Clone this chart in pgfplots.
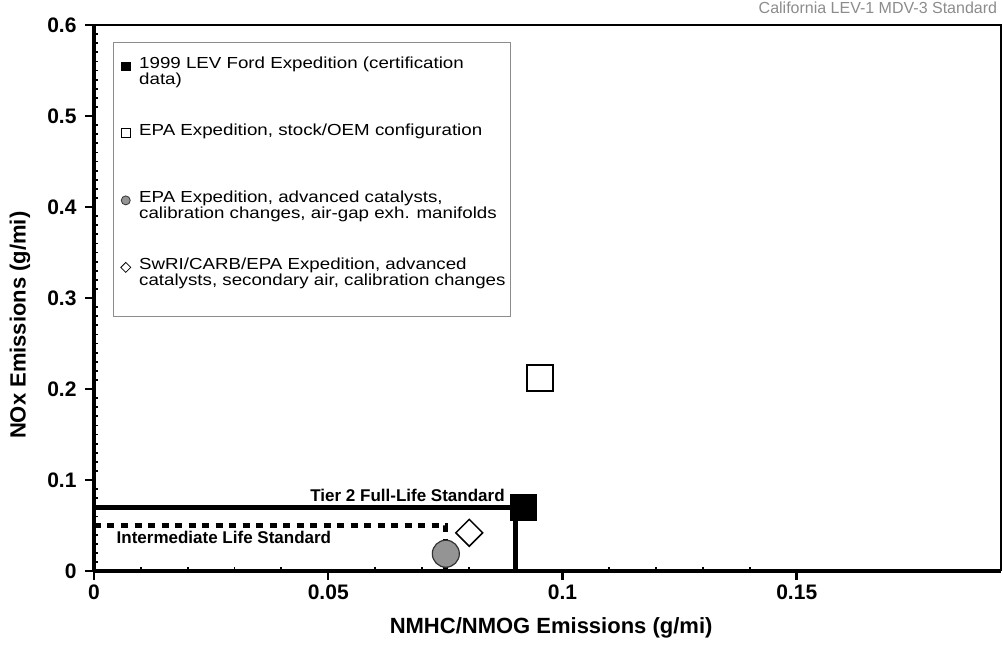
\documentclass[border=0pt]{standalone}
\usepackage{fontspec}
\setmainfont{Liberation Sans}
\newfontfamily\legfont{Liberation Sans}[FakeStretch=1.17]
\usepackage{pgfplots}
\pgfplotsset{compat=1.18}

% two-line legend text, baseline on the first line
\newcommand\twolines[2]{\vtop{\baselineskip=16pt\lineskiplimit=-30pt\hbox{#1}\hbox{#2}}}

\begin{document}
\begin{tikzpicture}
\useasboundingbox (-94pt,-77pt) rectangle (909pt,571pt);
\begin{axis}[
  scale only axis, width=907pt, height=546pt,
  at={(0pt,0pt)}, anchor=south west,
  xmin=0, xmax=0.1936, ymin=0, ymax=0.6,
  xtick={0,0.05,0.1,0.15}, minor x tick num=4,
  ytick={0,0.1,0.2,0.3,0.4,0.5,0.6}, minor y tick num=9,
  xtick pos=bottom, ytick pos=left,
  tick align=outside, major tick length=9pt, minor tick length=-4pt,
  major tick style={line width=2.5pt, black},
  minor tick style={line width=1.8pt, black},
  axis x line*=bottom, axis y line*=left,
  axis line style={line width=3.5pt, -},
  /pgf/number format/fixed, /pgf/number format/assume math mode=true,
  ticklabel style={font=\bfseries\fontsize{21}{25}\selectfont},
  yticklabel style={xshift=-5pt},
  xticklabel style={yshift=-1pt},
  xlabel={NMHC/NMOG Emissions (g/mi)}, ylabel={NOx Emissions (g/mi)},
  label style={font=\bfseries\fontsize{22}{26}\selectfont},
  xlabel style={at={(axis description cs:0.504,-0.104)}, anchor=center},
  ylabel style={at={(axis description cs:-0.0816,0.45)}, anchor=center},
  clip=false,
  legend image code/.code={\path (0pt,0pt) (11pt,0pt); \draw[#1] plot coordinates {(7pt,2pt)};},
  legend style={at={(axis description cs:0.0209,0.9689)}, anchor=north west,
    draw=black!45, line width=0.8pt, inner xsep=5pt, inner ysep=13pt,
    row sep=20pt, column sep=8.5pt, font=\legfont\fontsize{16}{16}\selectfont,
    cells={anchor=base west},
    nodes={inner sep=0pt, text height=13pt, text depth=34pt}},
]
\addlegendimage{only marks, mark=square*, mark size=4.2pt, black}
\addlegendentry{\twolines{1999 LEV Ford Expedition (certification}{data)}}
\addlegendimage{only marks, mark=square, mark size=4.5pt, mark options={draw=black, fill=white, line width=0.8pt}}
\addlegendentry{\twolines{EPA Expedition, stock/OEM configuration}{}}
\addlegendimage{only marks, mark=*, mark size=4.5pt, mark options={draw=black!80, fill=black!42, line width=0.8pt}}
\addlegendentry{\twolines{EPA Expedition, advanced catalysts,}{calibration changes, air-gap exh. manifolds}}
\addlegendimage{only marks, mark=square, mark size=3.5pt, mark options={rotate=45, draw=black, fill=white, line width=0.8pt}}
\addlegendentry{\twolines{SwRI/CARB/EPA Expedition, advanced}{catalysts, secondary air, calibration changes}}

% standards
\addplot[forget plot, black, line width=5.5pt, line join=miter] coordinates {(0,0.07) (0.09,0.07) (0.09,0)};
\addplot[forget plot, black, line width=5pt, dash pattern=on 7pt off 6.5pt] coordinates {(0,0.05) (0.075,0.05) (0.075,0)};

% vehicles
\addplot[forget plot, only marks, mark=square*, mark size=13pt, black] coordinates {(0.0916,0.070)};
\addplot[forget plot, only marks, mark=square, mark size=13pt, mark options={fill=white, draw=black, line width=1.5pt}] coordinates {(0.0952,0.212)};
\addplot[forget plot, only marks, mark=*, mark size=13.5pt, mark options={fill=black!42, draw=black!80, line width=1.2pt}] coordinates {(0.0751,0.019)};
\addplot[forget plot, only marks, mark=square, mark size=9.5pt, mark options={rotate=45, fill=white, draw=black, line width=1.5pt}] coordinates {(0.0801,0.042)};

\node[anchor=base east, inner sep=0pt, yshift=6pt, font=\bfseries\fontsize{17}{20}\selectfont] at (axis cs:0.0877,0.07) {Tier 2 Full-Life Standard};
\node[anchor=base west, inner sep=0pt, font=\bfseries\fontsize{17}{20}\selectfont] at (axis cs:0.0048,0.0297) {Intermediate Life Standard};
\node[anchor=base east, inner sep=0pt, text=black!45, font=\fontsize{16}{19}\selectfont] at (axis cs:0.1928,0.6121) {California LEV-1 MDV-3 Standard};

\draw[line width=2pt] (rel axis cs:0,1) -- (rel axis cs:1,1) -- (rel axis cs:1,0);
\end{axis}
\end{tikzpicture}
\end{document}
